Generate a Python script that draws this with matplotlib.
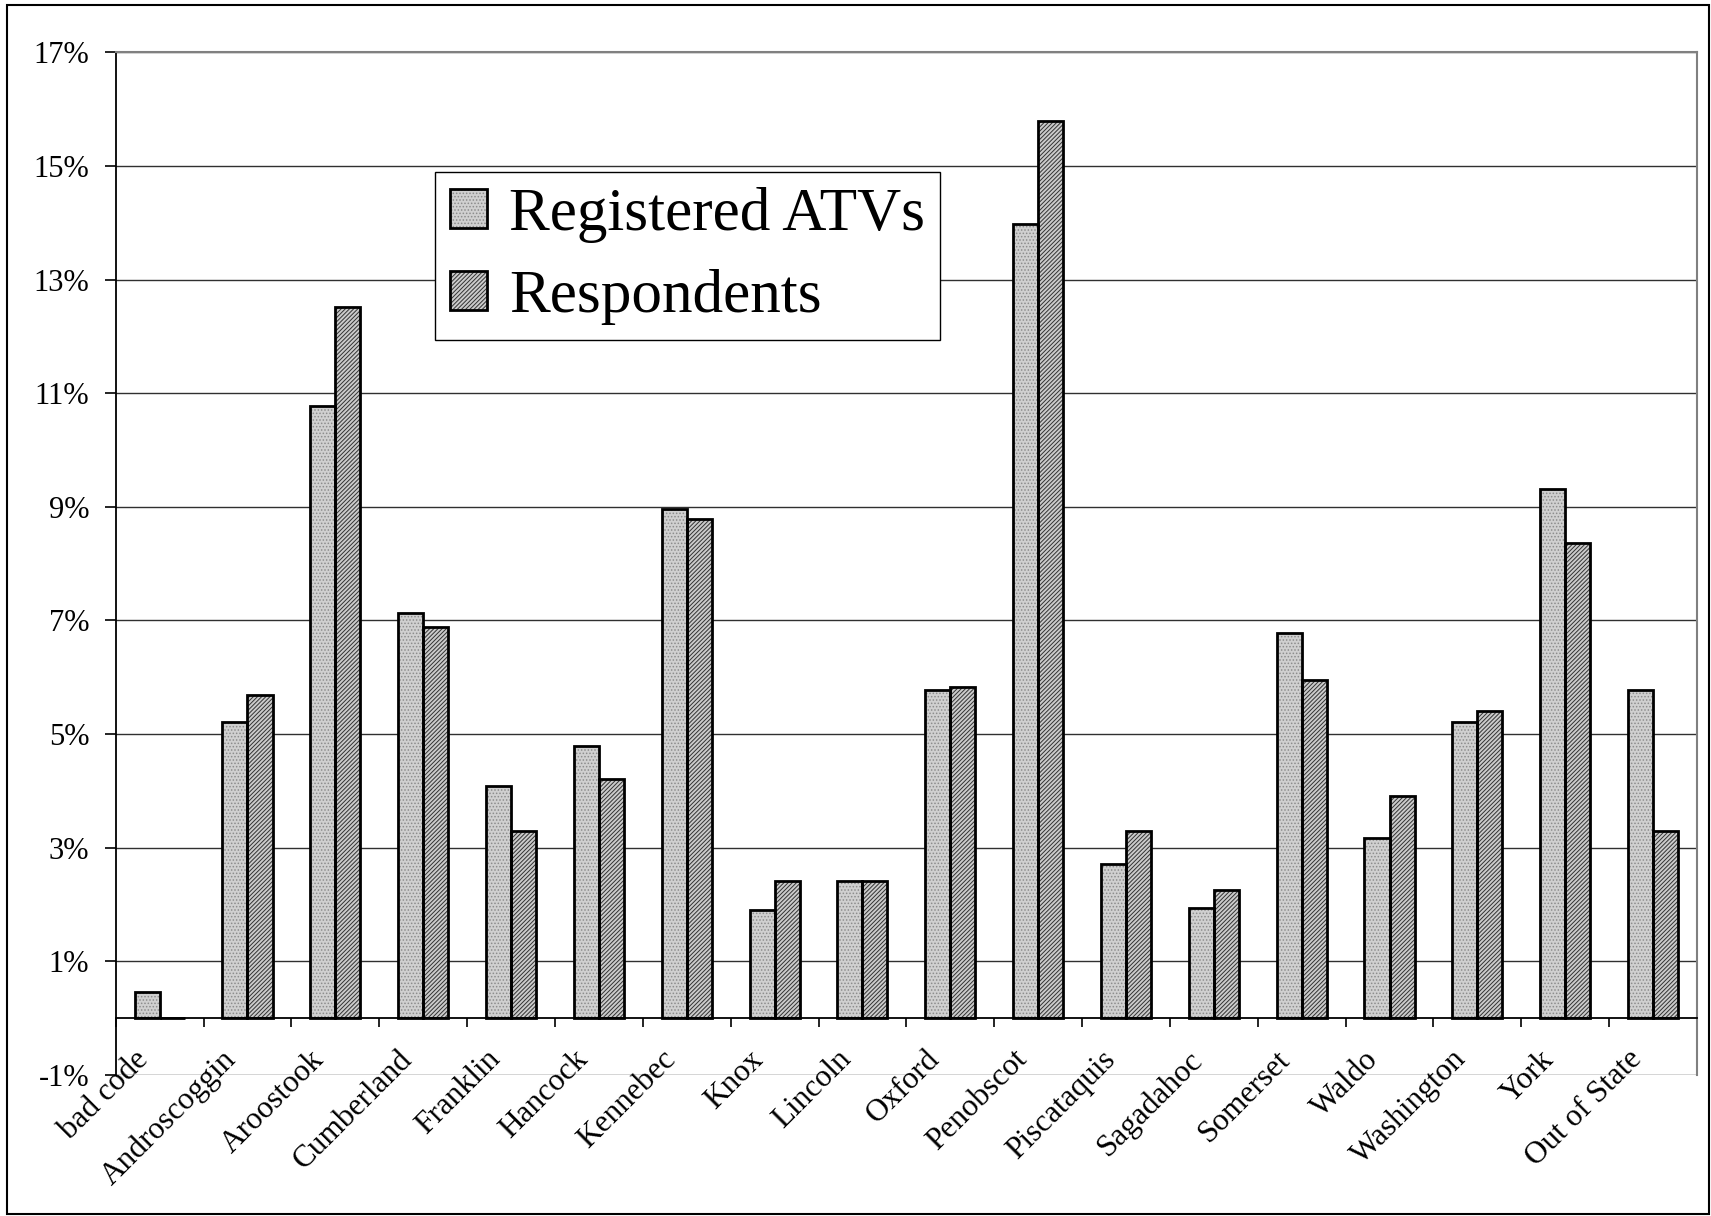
import matplotlib
matplotlib.use("Agg")
import matplotlib.pyplot as plt
import numpy as np
from matplotlib.ticker import FuncFormatter
from matplotlib.patches import Rectangle, Patch
import matplotlib.transforms as mtransforms

plt.rcParams['font.family'] = ['Liberation Serif', 'DejaVu Serif']
plt.rcParams['hatch.linewidth'] = 0.7

categories = ["bad code", "Androscoggin", "Aroostook", "Cumberland", "Franklin",
              "Hancock", "Kennebec", "Knox", "Lincoln", "Oxford", "Penobscot",
              "Piscataquis", "Sagadahoc", "Somerset", "Waldo", "Washington",
              "York", "Out of State"]
registered = [0.46, 5.22, 10.78, 7.13, 4.09, 4.78, 8.97, 1.90, 2.42, 5.78,
              13.98, 2.71, 1.94, 6.78, 3.17, 5.22, 9.32, 5.78]
respondents = [0.0, 5.69, 12.52, 6.88, 3.30, 4.21, 8.78, 2.42, 2.42, 5.82,
               15.79, 3.30, 2.25, 5.95, 3.90, 5.40, 8.37, 3.30]
series_names = ["Registered ATVs", "Respondents"]
yticks = [-1, 1, 3, 5, 7, 9, 11, 13, 15, 17]

W, H = 1711, 1216
fig = plt.figure(figsize=(W / 100, H / 100), dpi=100)
ax = fig.add_axes([115.7 / W, 1 - 1074.8 / H, (1697 - 115.7) / W, (1074.8 - 52.4) / H])

x = np.arange(len(categories))
bw = 0.285

REG_FACE, REG_HATCH, REG_H = '#d0d0d0', '#8c8c8c', '.....'
RES_FACE, RES_HATCH, RES_H = '#cbcbcb', '#333333', '////////'

ax.bar(x - bw / 2, registered, bw, color=REG_FACE, edgecolor=REG_HATCH,
       linewidth=0, hatch=REG_H, zorder=3)
ax.bar(x + bw / 2, respondents, bw, color=RES_FACE, edgecolor=RES_HATCH,
       linewidth=0, hatch=RES_H, zorder=3)
ax.bar(x - bw / 2, registered, bw, fill=False, edgecolor='black',
       linewidth=2, zorder=4)
ax.bar(x + bw / 2, respondents, bw, fill=False, edgecolor='black',
       linewidth=2, zorder=4)

ax.set_xlim(-0.5, len(categories) - 0.5)
ax.set_ylim(-1, 17)
ax.set_yticks(yticks)
ax.yaxis.set_major_formatter(FuncFormatter(lambda v, p: f"{int(v)}%"))
ax.tick_params(axis='y', direction='out', length=8, width=1.2, labelsize=22,
               pad=11, colors='black')
ax.grid(axis='y', color='#303030', linewidth=1.0, zorder=0)
ax.set_axisbelow(True)

ax.spines['bottom'].set_position(('data', 0))
ax.spines['bottom'].set_linewidth(1.3)
ax.spines['bottom'].set_zorder(5)
ax.spines['left'].set_linewidth(1.3)
ax.spines['top'].set_color('#808080')
ax.spines['right'].set_color('#808080')
ax.spines['top'].set_linewidth(1.5)
ax.spines['right'].set_linewidth(1.5)

ax.set_xticks(np.arange(-0.5, len(categories), 1.0))
ax.tick_params(axis='x', direction='out', length=6.5, width=1.2, labelbottom=False)

trans = mtransforms.blended_transform_factory(ax.transData, ax.transAxes)
off = mtransforms.ScaledTranslation(-5 / 100, 30 / 100, fig.dpi_scale_trans)
for i, c in enumerate(categories):
    ax.text(i, 0, c, transform=trans + off, rotation=45, ha='right', va='top',
            fontsize=22.5, rotation_mode='default')

h1 = (Patch(facecolor=REG_FACE, edgecolor=REG_HATCH, hatch=REG_H, linewidth=0),
      Patch(fill=False, edgecolor='black', linewidth=2))
h2 = (Patch(facecolor=RES_FACE, edgecolor=RES_HATCH, hatch=RES_H, linewidth=0),
      Patch(fill=False, edgecolor='black', linewidth=2))
leg = ax.legend([h1, h2], series_names, loc='upper left',
                bbox_to_anchor=(0.202, 0.883), borderaxespad=0, fontsize=44,
                handlelength=0.6, handleheight=0.6, handletextpad=0.36,
                borderpad=0.25, labelspacing=0.42, fancybox=False, frameon=True,
                edgecolor='black', framealpha=1)
leg.get_frame().set_linewidth(1.0)
leg.set_zorder(6)

fig.patches.append(Rectangle((7 / W, 2 / H), (1709 - 7) / W, (1211 - 2) / H,
                             transform=fig.transFigure, fill=False,
                             edgecolor='black', linewidth=1.5))

fig.savefig("out.png", dpi=100)
